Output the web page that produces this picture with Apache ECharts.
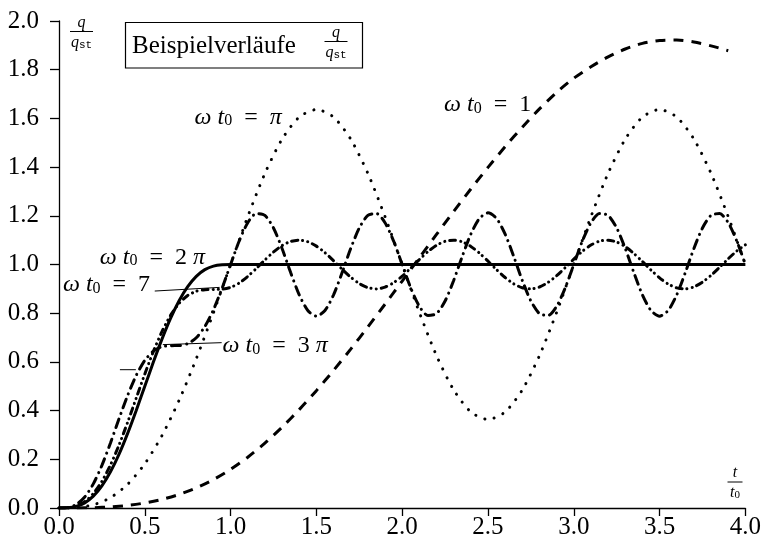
<!DOCTYPE html>
<html>
<head>
<meta charset="utf-8">
<script src="https://cdn.jsdelivr.net/npm/echarts@6/dist/echarts.min.js"></script>
<style>
  html, body { margin: 0; padding: 0; background: #fff; }
  #main { width: 764px; height: 541px; }
</style>
</head>
<body>
<div id="main"></div>
<script>
// t/t0 Stützstellen
const tCoarse = [0, 0.1, 0.2, 0.3, 0.4, 0.5, 0.6, 0.7, 0.8, 0.9, 1.0,
  1.1, 1.2, 1.3, 1.4, 1.5, 1.6, 1.7, 1.8, 1.9, 2.0,
  2.1, 2.2, 2.3, 2.4, 2.5, 2.6, 2.7, 2.8, 2.9, 3.0,
  3.1, 3.2, 3.3, 3.4, 3.5, 3.6, 3.7, 3.8, 3.9, 4.0]
const tFine = [0, 0.05, 0.1, 0.15, 0.2, 0.25, 0.3, 0.35, 0.4, 0.45, 0.5,
  0.55, 0.6, 0.65, 0.7, 0.75, 0.8, 0.85, 0.9, 0.95, 1.0,
  1.05, 1.1, 1.15, 1.2, 1.25, 1.3, 1.35, 1.4, 1.45, 1.5,
  1.55, 1.6, 1.65, 1.7, 1.75, 1.8, 1.85, 1.9, 1.95, 2.0,
  2.05, 2.1, 2.15, 2.2, 2.25, 2.3, 2.35, 2.4, 2.45, 2.5,
  2.55, 2.6, 2.65, 2.7, 2.75, 2.8, 2.85, 2.9, 2.95, 3.0,
  3.05, 3.1, 3.15, 3.2, 3.25, 3.3, 3.35, 3.4, 3.45, 3.5,
  3.55, 3.6, 3.65, 3.7, 3.75, 3.8, 3.85, 3.9, 3.95, 4.0]
const t2Pi = [0, 0.05, 0.1, 0.15, 0.2, 0.25, 0.3, 0.35, 0.4, 0.45, 0.5,
  0.55, 0.6, 0.65, 0.7, 0.75, 0.8, 0.85, 0.9, 0.95, 1.0, 4.0]

// q/qst je Kurve
const qOmega1 = [0, 0.0002, 0.0013, 0.0045, 0.0106, 0.0206, 0.0354, 0.0558, 0.0826, 0.1167, 0.1585,
  0.2086, 0.2666, 0.332, 0.404, 0.482, 0.565, 0.6525, 0.7435, 0.837, 0.932,
  1.028, 1.1235, 1.218, 1.31, 1.399, 1.484, 1.564, 1.639, 1.707, 1.765,
  1.812, 1.853, 1.885, 1.908, 1.92, 1.922, 1.914, 1.898, 1.878]
const qOmegaPi = [0, 0.0016, 0.0129, 0.0425, 0.0973, 0.1817, 0.2973, 0.4425, 0.6129, 0.8016, 1.0,
  1.1967, 1.3742, 1.515, 1.6055, 1.6366, 1.6055, 1.515, 1.3742, 1.1967, 1.0,
  0.8033, 0.6258, 0.485, 0.3945, 0.3634, 0.3945, 0.485, 0.6258, 0.8033, 1.0,
  1.1967, 1.3742, 1.515, 1.6055, 1.6366, 1.6055, 1.515, 1.3742, 1.1967, 1.0]
const qOmega2Pi = [0, 0.0008, 0.0065, 0.0212, 0.0486, 0.0909, 0.1486, 0.2212, 0.3065, 0.4008, 0.5,
  0.5992, 0.6935, 0.7788, 0.8514, 0.9091, 0.9514, 0.9788, 0.9935, 0.9992, 1.0, 1.0]
const qOmega3Pi = [0, 0.0018, 0.0142, 0.0452, 0.0991, 0.175, 0.2672, 0.3666, 0.4624, 0.5445, 0.6061,
  0.6445, 0.6624, 0.6666, 0.6672, 0.675, 0.6991, 0.7452, 0.8142, 0.9018, 1.0,
  1.0963, 1.1717, 1.2096, 1.2018, 1.15, 1.0656, 0.9668, 0.8753, 0.8109, 0.7878,
  0.8109, 0.8753, 0.9668, 1.0656, 1.15, 1.2018, 1.2096, 1.1717, 1.0963, 1.0,
  0.9037, 0.8283, 0.7904, 0.7982, 0.85, 0.9344, 1.0332, 1.1247, 1.1891, 1.2122,
  1.1891, 1.1247, 1.0332, 0.9344, 0.85, 0.7982, 0.7904, 0.8283, 0.9037, 1.0,
  1.0963, 1.1717, 1.2096, 1.2018, 1.15, 1.0656, 0.9668, 0.8753, 0.8109, 0.7878,
  0.8109, 0.8753, 0.9668, 1.0656, 1.15, 1.2018, 1.2096, 1.1717, 1.0963, 1.0]
const qOmega7 = [0, 0.001, 0.008, 0.0261, 0.0592, 0.1094, 0.1767, 0.2589, 0.3521, 0.4512, 0.5501,
  0.6429, 0.7245, 0.791, 0.8404, 0.8727, 0.8902, 0.8967, 0.8976, 0.8987, 0.9061,
  0.9239, 0.9509, 0.9839, 1.0187, 1.0513, 1.0777, 1.0947, 1.1002, 1.0935, 1.0755,
  1.0484, 1.0154, 0.9805, 0.948, 0.9218, 0.905, 0.8998, 0.9069, 0.9252, 0.9523,
  0.9854, 1.0203, 1.0527, 1.0788, 1.0952, 1.1001, 1.0929, 1.0744, 1.0469, 1.0137,
  0.9788, 0.9465, 0.9206, 0.9045, 0.8999, 0.9075, 0.9265, 0.9539, 0.987, 1.0219,
  1.0541, 1.0798, 1.0958, 1.1001, 1.0923, 1.0733, 1.0454, 1.012, 0.9772, 0.9451,
  0.9197, 0.904, 0.9, 0.9081, 0.9276, 0.9554, 0.9887, 1.0236, 1.0556, 1.0809]

// Achsen
const xTicks = [0, 0.5, 1.0, 1.5, 2.0, 2.5, 3.0, 3.5, 4.0]
const yTicks = [0, 0.2, 0.4, 0.6, 0.8, 1.0, 1.2, 1.4, 1.6, 1.8, 2.0]

const FONT = 'Liberation Serif'

function pairs(ts, qs) {
  return qs.map((q, i) => [ts[i], q])
}

function curve(name, ts, qs, width, dash, cap) {
  return {
    name: name,
    type: 'line',
    data: pairs(ts, qs),
    showSymbol: false,
    smooth: 0.25,
    silent: true,
    lineStyle: { color: '#000', width: width, type: dash, cap: cap || 'butt' }
  }
}

const chart = echarts.init(document.getElementById('main'))

chart.setOption({
  animation: false,
  backgroundColor: '#fff',
  grid: { left: 59, right: 17, top: 21, bottom: 33 },
  xAxis: {
    type: 'value',
    min: 0,
    max: 4,
    interval: 0.5,
    splitLine: { show: false },
    axisLine: { lineStyle: { color: '#000', width: 1.3 } },
    axisTick: { show: true, length: 8, lineStyle: { color: '#000', width: 1.3 } },
    axisLabel: {
      color: '#000', fontFamily: FONT, fontSize: 25, margin: 7,
      formatter: v => xTicks.includes(v) ? v.toFixed(1) : ''
    }
  },
  yAxis: {
    type: 'value',
    min: 0,
    max: 2,
    interval: 0.2,
    splitLine: { show: false },
    axisLine: { show: true, lineStyle: { color: '#000', width: 1.3 } },
    axisTick: { show: true, length: 9, lineStyle: { color: '#000', width: 1.3 } },
    axisLabel: {
      color: '#000', fontFamily: FONT, fontSize: 25, margin: 20,
      formatter: v => v.toFixed(1)
    }
  },
  series: [
    curve('ωt0=1', tCoarse, qOmega1, 3, [10, 8]),
    curve('ωt0=π', tCoarse, qOmegaPi, 3, [0.1, 9.5], 'round'),
    curve('ωt0=3π', tFine, qOmega3Pi, 3, [9, 6, 0.1, 6], 'round'),
    curve('ωt0=7', tFine, qOmega7, 3, [6, 5, 0.1, 5, 0.1, 5], 'round'),
    curve('ωt0=2π', t2Pi, qOmega2Pi, 3, 'solid')
  ]
})

// Beschriftungen (in Datenkoordinaten)
const mathRich = {
  i: { fontFamily: FONT, fontStyle: 'italic', fontSize: 24, lineHeight: 28, verticalAlign: 'bottom' },
  n: { fontFamily: FONT, fontSize: 24, lineHeight: 28, verticalAlign: 'bottom' },
  s: { fontFamily: FONT, fontSize: 16, lineHeight: 9, verticalAlign: 'bottom' }
}
const EQ = '\u2002=\u2002'
const curveLabels = [
  { text: '{i|ω t}{s|0}{n|' + EQ + '}{i|π}', at: [0.79, 1.613] },
  { text: '{i|ω t}{s|0}{n|' + EQ + '1}', at: [2.244, 1.666] },
  { text: '{i|ω t}{s|0}{n|' + EQ + '2 }{i|π}', at: [0.238, 1.038] },
  { text: '{i|ω t}{s|0}{n|' + EQ + '7}', at: [0.023, 0.926] },
  { text: '{i|ω t}{s|0}{n|' + EQ + '3 }{i|π}', at: [0.953, 0.675] }
]
const leaders = [
  [[0.558, 0.891], [0.936, 0.906]],
  [[0.605, 0.671], [0.948, 0.679]],
  [[0.355, 0.568], [0.448, 0.568]]
]

function px(p) {
  return chart.convertToPixel({ gridIndex: 0 }, p)
}

function fraction(cx, lineY, halfW, top, bottom) {
  return [
    { type: 'line', shape: { x1: cx - halfW, y1: lineY, x2: cx + halfW, y2: lineY }, style: { stroke: '#000', lineWidth: 1 } },
    { type: 'text', x: cx, y: lineY - 1, style: { text: top, fontFamily: FONT, fontStyle: 'italic', fontSize: 16, fill: '#000', align: 'center', verticalAlign: 'bottom' } },
    { type: 'text', x: cx, y: lineY + 3, style: bottom }
  ]
}
const qstStyle = {
  text: '{q|q}{st|st}', align: 'center', verticalAlign: 'top',
  rich: {
    q: { fontFamily: FONT, fontStyle: 'italic', fontSize: 16, fill: '#000' },
    st: { fontFamily: 'Liberation Mono', fontSize: 11, fill: '#000', verticalAlign: 'bottom' }
  }
}
const t0Style = {
  text: '{t|t}{o|0}', align: 'center', verticalAlign: 'top',
  rich: {
    t: { fontFamily: FONT, fontStyle: 'italic', fontSize: 16, fill: '#000' },
    o: { fontFamily: FONT, fontSize: 11, fill: '#000', verticalAlign: 'bottom' }
  }
}

const graphics = []
curveLabels.forEach(l => {
  const p = px(l.at)
  graphics.push({ type: 'text', x: p[0], y: p[1], style: { text: l.text, rich: mathRich, fill: '#000', align: 'left', verticalAlign: 'middle' } })
})
leaders.forEach(s => {
  const a = px(s[0]), b = px(s[1])
  graphics.push({ type: 'line', shape: { x1: a[0], y1: a[1], x2: b[0], y2: b[1] }, style: { stroke: '#000', lineWidth: 1 } })
})

// Kasten oben
graphics.push({ type: 'rect', shape: { x: 125.5, y: 22.5, width: 237, height: 45.5 }, style: { fill: '#fff', stroke: '#000', lineWidth: 1.2 } })
graphics.push({ type: 'text', x: 132, y: 46, style: { text: 'Beispielverläufe', fontFamily: FONT, fontSize: 25, fill: '#000', verticalAlign: 'middle' } })
fraction(336, 41.5, 11.5, 'q', qstStyle).forEach(g => graphics.push(g))
// Achsentitel
fraction(81.5, 31.5, 11.5, 'q', qstStyle).forEach(g => graphics.push(g))
fraction(735, 482, 7.5, 't', t0Style).forEach(g => graphics.push(g))

chart.setOption({ graphic: graphics })
</script>
</body>
</html>
